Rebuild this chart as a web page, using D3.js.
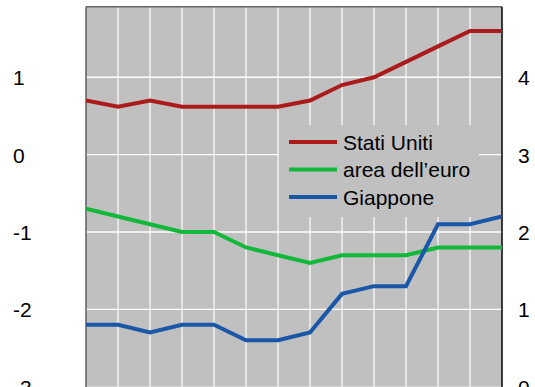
<!DOCTYPE html>
<html>
<head>
<meta charset="utf-8">
<script src="https://cdn.jsdelivr.net/npm/d3@7"></script>
<style>
  html, body { margin: 0; padding: 0; background: #fff; }
  svg { display: block; }
  text { font-family: Arial, "Liberation Sans", sans-serif; fill: #000; }
</style>
</head>
<body>
<svg id="chart" width="535" height="387"></svg>
<script>
// Periods along the horizontal axis (14 observations)
const periods = d3.range(14);

// Series values (left scale)
const statiUniti = [0.7, 0.62, 0.7, 0.62, 0.62, 0.62, 0.62, 0.7, 0.9, 1.0, 1.2, 1.4, 1.6, 1.6];
const areaEuro   = [-0.7, -0.8, -0.9, -1.0, -1.0, -1.2, -1.3, -1.4, -1.3, -1.3, -1.3, -1.2, -1.2, -1.2];
const giappone   = [-2.2, -2.2, -2.3, -2.2, -2.2, -2.4, -2.4, -2.3, -1.8, -1.7, -1.7, -0.9, -0.9, -0.8];

const seriesNames = ["Stati Uniti", "area dell\u2019euro", "Giappone"];
const seriesColors = ["#ac1b1b", "#12b83a", "#1a57a9"];

// Tick labels
const leftTicks = [-3, -2, -1, 0, 1];
const rightTicks = [0, 1, 2, 3, 4];

const svg = d3.select("#chart");
const W = 535, H = 387;
const margin = { top: 6.7, right: 33, bottom: 0.3, left: 86 };
const innerW = W - margin.left - margin.right;
const innerH = H - margin.top - margin.bottom;

const x = d3.scaleLinear().domain([0, periods.length - 1]).range([margin.left, margin.left + innerW]);
const yL = d3.scaleLinear().domain([-3, 1.913]).range([margin.top + innerH, margin.top]);
const yR = d3.scaleLinear().domain([0, 4.913]).range([margin.top + innerH, margin.top]);

// Plain hyphen-minus for negative labels
const fmt = d => String(d);

// Plot background
svg.append("rect")
  .attr("x", margin.left).attr("y", margin.top)
  .attr("width", innerW).attr("height", innerH)
  .attr("fill", "#c0c0c0");

// Vertical gridlines
svg.append("g")
  .selectAll("line")
  .data(periods.slice(1, -1))
  .join("line")
  .attr("x1", d => x(d)).attr("x2", d => x(d))
  .attr("y1", margin.top).attr("y2", margin.top + innerH)
  .attr("stroke", "#eeeeee").attr("stroke-width", 1.6);

// Horizontal gridlines
svg.append("g")
  .selectAll("line")
  .data(leftTicks.filter(d => d > -3))
  .join("line")
  .attr("x1", margin.left).attr("x2", margin.left + innerW)
  .attr("y1", d => yL(d)).attr("y2", d => yL(d))
  .attr("stroke", "#ffffff").attr("stroke-width", 1.4);

// Frame
svg.append("line")
  .attr("x1", margin.left).attr("x2", margin.left)
  .attr("y1", margin.top).attr("y2", H)
  .attr("stroke", "#666").attr("stroke-width", 1.6);
svg.append("line")
  .attr("x1", margin.left).attr("x2", margin.left + innerW)
  .attr("y1", margin.top).attr("y2", margin.top)
  .attr("stroke", "#666").attr("stroke-width", 1.4);
svg.append("line")
  .attr("x1", margin.left + innerW).attr("x2", margin.left + innerW)
  .attr("y1", margin.top).attr("y2", H)
  .attr("stroke", "#111").attr("stroke-width", 1.6);

// Axis labels
const leftAxis = d3.axisLeft(yL).tickValues(leftTicks).tickSize(0).tickFormat(fmt);
const gL = svg.append("g").call(leftAxis);
gL.select(".domain").remove();
gL.selectAll("text")
  .attr("x", 13).attr("dy", "0.36em")
  .attr("text-anchor", "start")
  .style("font-size", "21px").style("font-family", "Arial, 'Liberation Sans', sans-serif");

const rightAxis = d3.axisRight(yR).tickValues(rightTicks).tickSize(0).tickFormat(fmt);
const gR = svg.append("g").call(rightAxis);
gR.select(".domain").remove();
gR.selectAll("text")
  .attr("x", 518).attr("dy", "0.36em")
  .attr("text-anchor", "start")
  .style("font-size", "21px").style("font-family", "Arial, 'Liberation Sans', sans-serif");

// Clip for series lines
svg.append("clipPath").attr("id", "plotClip")
  .append("rect")
  .attr("x", margin.left).attr("y", margin.top)
  .attr("width", innerW).attr("height", innerH);

// Legend box (covers gridlines behind it)
const legendX = 279, legendY = 125;
svg.append("rect")
  .attr("x", legendX).attr("y", legendY)
  .attr("width", 200).attr("height", 92)
  .attr("fill", "#c0c0c0");

const line = d3.line().x((d, i) => x(i)).y(d => yL(d));
const allSeries = [statiUniti, areaEuro, giappone];

svg.append("g").attr("clip-path", "url(#plotClip)")
  .selectAll("path")
  .data(allSeries)
  .join("path")
  .attr("d", d => line(d))
  .attr("fill", "none")
  .attr("stroke", (d, i) => seriesColors[i])
  .attr("stroke-width", 4)
  .attr("stroke-linejoin", "miter");

const legend = svg.append("g");
const items = legend.selectAll("g")
  .data(seriesNames)
  .join("g")
  .attr("transform", (d, i) => `translate(0,${142 + i * 27.5})`);
items.append("line")
  .attr("x1", 289).attr("x2", 337)
  .attr("y1", 0).attr("y2", 0)
  .attr("stroke", (d, i) => seriesColors[i])
  .attr("stroke-width", 4);
items.append("text")
  .attr("x", 343).attr("y", 0).attr("dy", "0.36em")
  .style("font-size", "21px")
  .text(d => d);
</script>
</body>
</html>
